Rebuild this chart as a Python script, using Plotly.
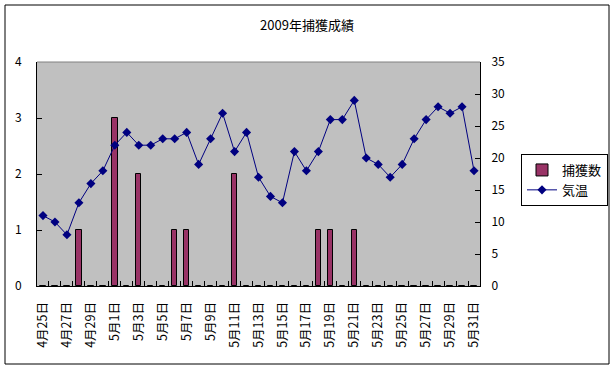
import plotly.graph_objects as go

dates = ["4月25日", "4月26日", "4月27日", "4月28日", "4月29日", "4月30日",
         "5月1日", "5月2日", "5月3日", "5月4日", "5月5日", "5月6日", "5月7日",
         "5月8日", "5月9日", "5月10日", "5月11日", "5月12日", "5月13日",
         "5月14日", "5月15日", "5月16日", "5月17日", "5月18日", "5月19日",
         "5月20日", "5月21日", "5月22日", "5月23日", "5月24日", "5月25日",
         "5月26日", "5月27日", "5月28日", "5月29日", "5月30日", "5月31日"]
catch = [0, 0, 0, 1, 0, 0, 3, 0, 2, 0, 0, 1, 1, 0, 0, 0, 2, 0, 0,
         0, 0, 0, 0, 1, 1, 0, 1, 0, 0, 0, 0, 0, 0, 0, 0, 0, 0]
temp = [11, 10, 8, 13, 16, 18, 22, 24, 22, 22, 23, 23, 24, 19, 23, 27, 21, 24, 17,
        14, 13, 21, 18, 21, 26, 26, 29, 20, 19, 17, 19, 23, 26, 28, 27, 28, 18]
tick_text = [d if i % 2 == 0 else "" for i, d in enumerate(dates)]

FONT = "Noto Sans CJK JP"

fig = go.Figure()
fig.add_trace(go.Bar(
    x=dates, y=catch, name="捕獲数", width=0.45,
    marker=dict(color="#993366", line=dict(color="black", width=1)),
))
fig.add_trace(go.Scatter(
    x=dates, y=temp, name="気温", yaxis="y2", mode="lines+markers",
    line=dict(color="#000080", width=1),
    marker=dict(symbol="diamond", size=7, color="#000080"),
))

L, R, T, B = 37, 480, 62, 286
W, H = 615, 369
pw, ph = R - L, B - T

def px(x):
    return (x - L) / pw

def py(y):
    return (B - y) / ph

fig.update_layout(
    width=W, height=H,
    margin=dict(l=L, r=W - R, t=T, b=H - B, pad=0, autoexpand=False),
    paper_bgcolor="white", plot_bgcolor="#C0C0C0",
    font=dict(family=FONT, size=12, color="black"),
    title=dict(text="2009年捕獲成績", x=px(307), xanchor="center",
               xref="paper", yref="container",
               y=1 - 25 / H, yanchor="middle", font=dict(size=13)),
    showlegend=True,
    legend=dict(x=px(521), y=py(154), xanchor="left", yanchor="top",
                bordercolor="black", borderwidth=1, bgcolor="white",
                font=dict(size=13), traceorder="normal",
                itemwidth=30, tracegroupgap=0),
    bargap=0,
    xaxis=dict(
        type="category", tickmode="array", tickvals=dates, ticktext=tick_text,
        tickangle=-90, tickson="boundaries", ticks="inside", ticklen=5,
        tickcolor="black", showline=True, linecolor="black", linewidth=1,
        showgrid=False, tickfont=dict(size=12.5), range=[-0.5, len(dates) - 0.5],
        automargin=False, ticklabelstandoff=10,
    ),
    yaxis=dict(
        range=[0, 4], dtick=1, ticks="inside", ticklen=5, tickcolor="black",
        showline=True, linecolor="black", linewidth=1, showgrid=False,
        zeroline=False, tickfont=dict(size=12), ticklabelstandoff=12,
        automargin=False,
    ),
    yaxis2=dict(
        range=[0, 35], dtick=5, overlaying="y", side="right", ticks="inside",
        ticklen=5, tickcolor="black", showline=True, linecolor="black",
        linewidth=1, showgrid=False, zeroline=False, tickfont=dict(size=12),
        ticklabelstandoff=8, automargin=False,
    ),
    shapes=[
        dict(type="line", xref="paper", yref="paper", x0=0, x1=1, y0=1, y1=1,
             line=dict(color="#808080", width=1)),
        dict(type="rect", xref="paper", yref="paper",
             x0=px(5), x1=px(609), y0=py(364), y1=py(5),
             line=dict(color="black", width=1), layer="below"),
    ],
)

fig.write_html(
    "out.html",
    config={"displayModeBar": False},
    post_script="document.body.style.margin='0';document.body.style.overflow='hidden';",
)
